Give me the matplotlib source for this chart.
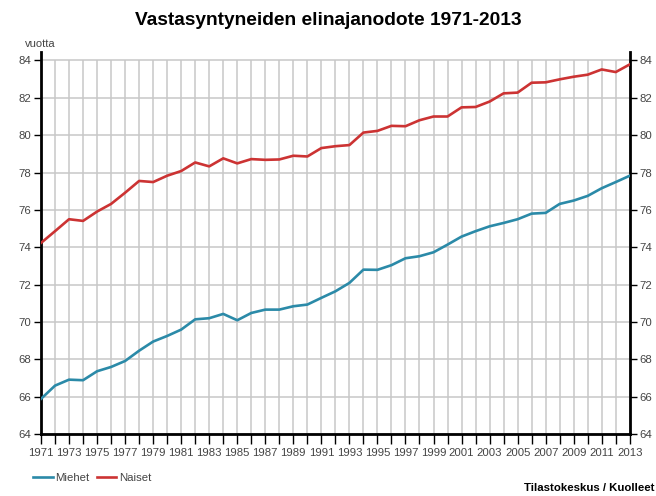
import matplotlib
matplotlib.use('Agg')
import matplotlib.pyplot as plt
import numpy as np

plt.rcParams['font.family'] = ['Liberation Sans', 'DejaVu Sans']

years = list(range(1971, 2014))
miehet = [65.88, 66.59, 66.91, 66.88, 67.36, 67.59, 67.91, 68.46, 68.95, 69.25,
          69.59, 70.14, 70.20, 70.43, 70.09, 70.48, 70.66, 70.66, 70.84, 70.93,
          71.29, 71.64, 72.09, 72.80, 72.79, 73.04, 73.41, 73.52, 73.73, 74.14,
          74.57, 74.86, 75.12, 75.30, 75.50, 75.80, 75.84, 76.32, 76.50, 76.75,
          77.16, 77.49, 77.83]
naiset = [74.23, 74.86, 75.50, 75.41, 75.91, 76.32, 76.92, 77.55, 77.49, 77.83,
          78.08, 78.54, 78.33, 78.76, 78.49, 78.72, 78.68, 78.70, 78.90, 78.86,
          79.31, 79.41, 79.47, 80.14, 80.23, 80.50, 80.48, 80.80, 81.00, 81.00,
          81.49, 81.51, 81.80, 82.24, 82.28, 82.81, 82.83, 82.99, 83.13, 83.24,
          83.52, 83.38, 83.79]

blue = '#2b8aa8'
red = '#cc3333'
grey = '#444444'
gridc = '#c8c8c8'

fig = plt.figure(figsize=(6.56, 4.96), dpi=100)
ax = fig.add_axes([0.0625, 0.125, 0.8975, 0.77])

ax.plot(years, miehet, color=blue, lw=1.9, label='Miehet', zorder=3)
ax.plot(years, naiset, color=red, lw=1.9, label='Naiset', zorder=3)

ax.set_xlim(1971, 2013)
ax.set_ylim(64, 84.45)
ax.set_xticks(years)
ax.set_xticklabels([str(y) if (y - 1971) % 2 == 0 else '' for y in years])
ax.set_yticks(range(64, 85, 2))
# horizontal grid from the axis, vertical grid stops at the top gridline
ax.grid(True, axis='y', color=gridc, lw=1.1, zorder=0)
ax.vlines(years, 64, 84, color=gridc, lw=1.1, zorder=0)

ax.spines['top'].set_visible(False)
for s in ['left', 'right', 'bottom']:
    ax.spines[s].set_linewidth(2.0)
    ax.spines[s].set_color('black')

ax.tick_params(axis='both', direction='out', length=5, width=1, color='black',
               labelsize=8.2, labelcolor=grey)
ax.tick_params(axis='y', right=True, labelright=True, pad=2)
ax.tick_params(axis='x', length=7, pad=3)

fig.text(0.5, 0.958, 'Vastasyntyneiden elinajanodote 1971-2013', ha='center',
         va='center', fontsize=13.8, fontweight='bold')
fig.text(0.038, 0.912, 'vuotta', fontsize=8, color=grey, va='center')
fig.text(0.997, 0.006, 'Tilastokeskus / Kuolleet', fontsize=8.2, fontweight='bold',
         ha='right', va='bottom')

fig.legend(loc='center left', bbox_to_anchor=(0.035, 0.037), ncol=2, frameon=False,
           fontsize=8.2, handlelength=1.7, handletextpad=0.25, columnspacing=0.6,
           labelcolor=grey)

fig.savefig('out.png', dpi=100)
